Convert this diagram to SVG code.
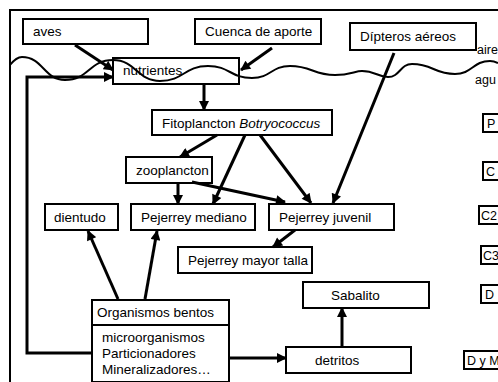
<svg xmlns="http://www.w3.org/2000/svg" width="498" height="382" viewBox="0 0 498 382">
<style>
.b{fill:#fff;stroke:#000;stroke-width:2}
.t{font-family:"Liberation Sans",Arial,sans-serif;font-size:13.5px;fill:#000}
.s{font-family:"Liberation Sans",Arial,sans-serif;font-size:12.5px;fill:#000}
.c{fill:none;stroke:#000;stroke-width:3}
</style>
<defs>
<marker id="ah" viewBox="0 0 10 10" refX="9" refY="5" markerWidth="11" markerHeight="10" markerUnits="userSpaceOnUse" orient="auto">
<path d="M0,0 L10,5 L0,10 z" fill="#000"/>
</marker>
</defs>
<rect width="498" height="382" fill="#fff"/>
<path d="M10,382 V10 H500" fill="none" stroke="#000" stroke-width="2"/>
<g id="aves"><rect class="b" x="23" y="19" width="125" height="25"/><text class="t" x="33" y="36">aves</text></g>
<g id="cuenca"><rect class="b" x="195" y="19" width="126" height="25"/><text class="t" x="205" y="36">Cuenca de aporte</text></g>
<g id="dipteros"><rect class="b" x="350" y="23" width="126" height="27"/><text class="t" x="360" y="41">Dípteros aéreos</text></g>
<g id="nutrientes"><rect class="b" x="113" y="58" width="126" height="26"/><text class="t" x="123" y="75">nutrientes</text></g>
<path d="M10,65 C14,60 18,57 22,57 C43,57 44,80 65,80 C89,80 89,60 113,60 C136,60 137,81 160,81 C184,81 184,66 208,66 C230,66 230,78 252,78 C271,78 271,66 290,66 C312,66 313,75 335,75 C350,75 355,71 362,71 C375,71 378,77 388,77 C400,77 400,64 412,64 C433,64 434,74 455,74 C472,74 473,61 490,61 C494,61 496,62 498,63" fill="none" stroke="#000" stroke-width="2"/>
<text class="s" x="477" y="54">aire</text>
<text class="s" x="475" y="84">agu</text>
<g id="fitoplancton"><rect class="b" x="152" y="110" width="180" height="25"/><text class="t" x="162" y="128">Fitoplancton <tspan font-style="italic">Botryococcus</tspan></text></g>
<g id="zooplancton"><rect class="b" x="126" y="157" width="86" height="26"/><text class="t" x="136" y="175">zooplancton</text></g>
<g id="dientudo"><rect class="b" x="45" y="204" width="73" height="26"/><text class="t" x="54" y="222">dientudo</text></g>
<g id="mediano"><rect class="b" x="131" y="204" width="124" height="26"/><text class="t" x="141" y="222">Pejerrey mediano</text></g>
<g id="juvenil"><rect class="b" x="269" y="204" width="125" height="26"/><text class="t" x="279" y="222">Pejerrey juvenil</text></g>
<g id="mayor"><rect class="b" x="178" y="247" width="134" height="26"/><text class="t" x="188" y="265">Pejerrey mayor talla</text></g>
<g id="sabalito"><rect class="b" x="303" y="282" width="126" height="26"/><text class="t" x="331" y="300">Sabalito</text></g>
<g id="detritos"><rect class="b" x="286" y="347" width="125" height="26"/><text class="t" x="315" y="365">detritos</text></g>
<g id="bentos"><rect class="b" x="92" y="300" width="137" height="82"/><line x1="92" y1="325" x2="229" y2="325" stroke="#000" stroke-width="2"/>
<text class="t" x="97" y="317">Organismos bentos</text>
<text class="t" x="102" y="342">microorganismos</text>
<text class="t" x="102" y="358">Particionadores</text>
<text class="t" x="102" y="374">Mineralizadores…</text></g>
<g id="P"><rect class="b" x="483" y="114" width="30" height="18"/><text class="s" x="487" y="128">P</text></g>
<g id="C"><rect class="b" x="483" y="162" width="30" height="18"/><text class="s" x="486" y="176">C</text></g>
<g id="C2"><rect class="b" x="479" y="206" width="30" height="18"/><text class="s" x="481" y="220">C2</text></g>
<g id="C3"><rect class="b" x="481" y="246" width="30" height="18"/><text class="s" x="483" y="260">C3</text></g>
<g id="D"><rect class="b" x="481" y="285" width="30" height="18"/><text class="s" x="485" y="299">D</text></g>
<g id="DyM"><rect class="b" x="464" y="351" width="50" height="18"/><text class="s" x="467" y="365">D y M</text></g>
<g id="connectors" class="c">
<path class="c" d="M75,45 L113,70" marker-end="url(#ah)"/>
<path class="c" d="M272,48 L241,70" marker-end="url(#ah)"/>
<path class="c" d="M93,353 H27 V77 H113" marker-end="url(#ah)"/>
<path class="c" d="M204,84 V110" marker-end="url(#ah)"/>
<path class="c" d="M394,53 L333,203" marker-end="url(#ah)"/>
<path class="c" d="M217,135 L180,157" marker-end="url(#ah)"/>
<path class="c" d="M245,135 L213,204" marker-end="url(#ah)"/>
<path class="c" d="M260,135 L311,203" marker-end="url(#ah)"/>
<path class="c" d="M178,183 V204" marker-end="url(#ah)"/>
<path class="c" d="M192,182 L285,202" marker-end="url(#ah)"/>
<path class="c" d="M295,230 L273,247" marker-end="url(#ah)"/>
<path class="c" d="M118,299 L88,231" marker-end="url(#ah)"/>
<path class="c" d="M145,299 L157,231" marker-end="url(#ah)"/>
<path class="c" d="M229,358 H286" marker-end="url(#ah)"/>
<path class="c" d="M342,347 V308" marker-end="url(#ah)"/>
</g>
</svg>
